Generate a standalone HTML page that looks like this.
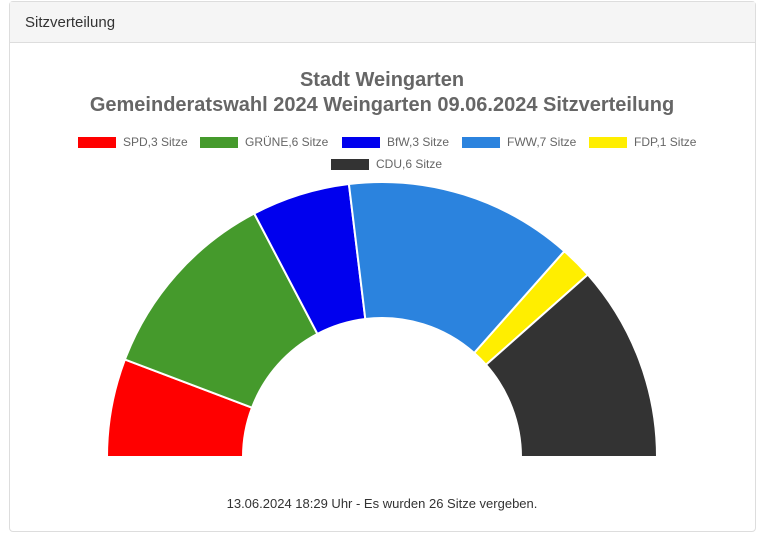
<!DOCTYPE html>
<html><head><meta charset="utf-8"><style>
body{margin:0;background:#fff;width:772px;height:546px;overflow:hidden;font-family:"Liberation Sans",sans-serif}
.panel{position:absolute;left:9px;top:1px;width:745px;height:529px;border:1px solid #ddd;border-radius:4px}
.hd{height:40px;background:#f5f5f5;border-bottom:1px solid #ddd;font-size:15px;color:#333;line-height:42px;padding-left:15px}
</style></head><body>
<div class="panel"><div class="hd">Sitzverteilung</div></div>
<svg width="772" height="546" style="position:absolute;left:0;top:0" font-family="Liberation Sans, sans-serif">
<text x="382" y="86" text-anchor="middle" font-size="20" font-weight="bold" fill="#666">Stadt Weingarten</text>
<text x="382" y="111" text-anchor="middle" font-size="20" font-weight="bold" fill="#666">Gemeinderatswahl 2024 Weingarten 09.06.2024 Sitzverteilung</text>
<g font-size="12" fill="#666">
<rect x="78" y="137" width="38" height="11" fill="#ff0000"/><text x="123" y="146">SPD,3 Sitze</text>
<rect x="200" y="137" width="38" height="11" fill="#459a2c"/><text x="245" y="146">GRÜNE,6 Sitze</text>
<rect x="342" y="137" width="38" height="11" fill="#0000ee"/><text x="387" y="146">BfW,3 Sitze</text>
<rect x="462" y="137" width="38" height="11" fill="#2b83de"/><text x="507" y="146">FWW,7 Sitze</text>
<rect x="589" y="137" width="38" height="11" fill="#ffee00"/><text x="634" y="146">FDP,1 Sitze</text>
<rect x="331" y="159" width="38" height="11" fill="#333333"/><text x="376" y="168">CDU,6 Sitze</text>
</g>
<g stroke="#fff" stroke-width="2" stroke-linejoin="round">
<path d="M107,457 A275,275 0 0 1 124.9,359.5 L252,407.7 A139,139 0 0 0 243,457 Z" fill="#ff0000"/>
<path d="M124.9,359.5 A275,275 0 0 1 254.2,213.5 L317.4,333.9 A139,139 0 0 0 252,407.7 Z" fill="#459a2c"/>
<path d="M254.2,213.5 A275,275 0 0 1 348.9,184 L365.3,319 A139,139 0 0 0 317.4,333.9 Z" fill="#0000ee"/>
<path d="M348.9,184 A275,275 0 0 1 564.4,251.2 L474.2,353 A139,139 0 0 0 365.3,319 Z" fill="#2b83de"/>
<path d="M564.4,251.2 A275,275 0 0 1 587.8,274.6 L486,364.8 A139,139 0 0 0 474.2,353 Z" fill="#ffee00"/>
<path d="M587.8,274.6 A275,275 0 0 1 657,457 L521,457 A139,139 0 0 0 486,364.8 Z" fill="#333333"/>
</g>
<text x="382" y="508" text-anchor="middle" font-size="13" fill="#333">13.06.2024 18:29 Uhr - Es wurden 26 Sitze vergeben.</text>
</svg>
</body></html>
